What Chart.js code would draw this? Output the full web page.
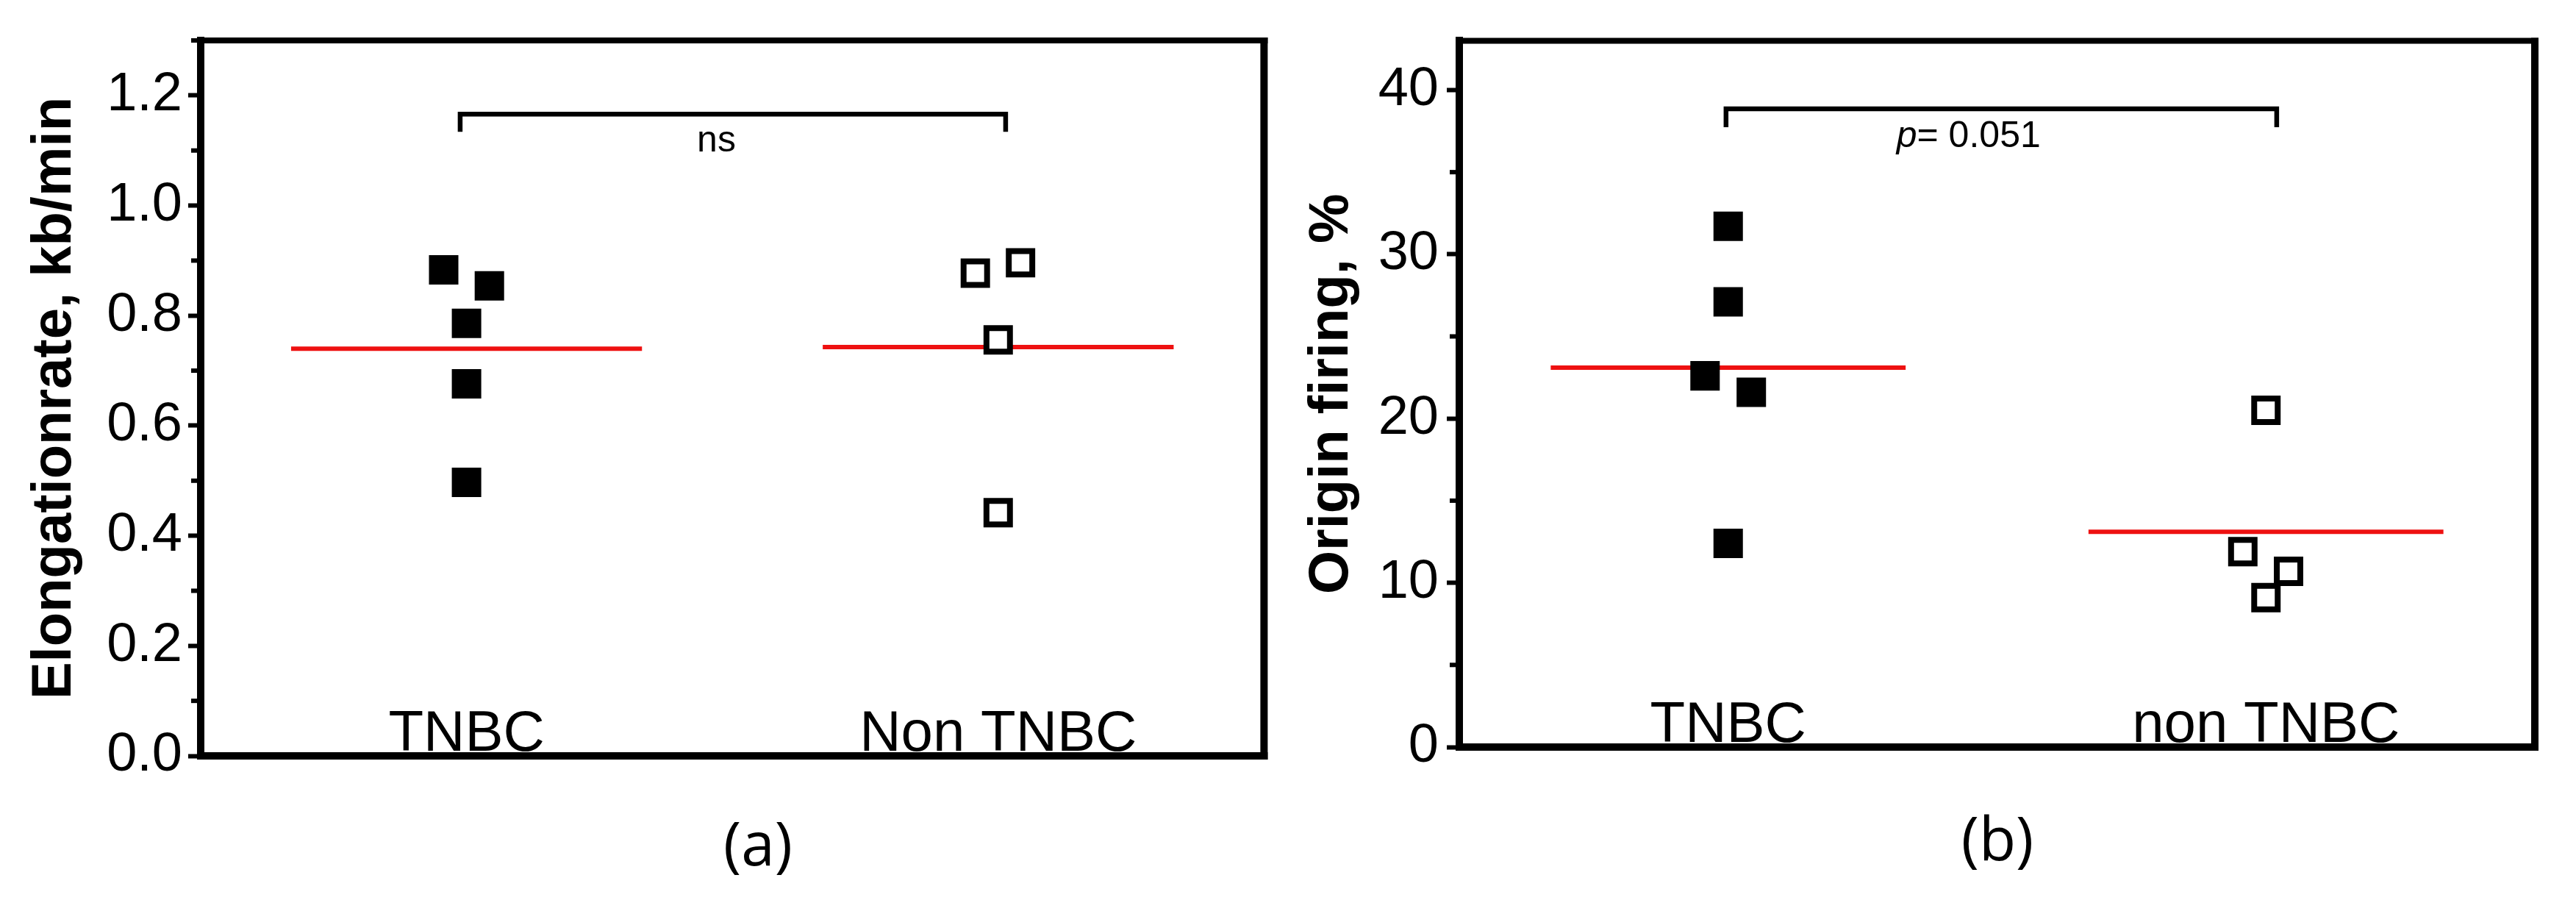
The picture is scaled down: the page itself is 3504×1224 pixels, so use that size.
<!DOCTYPE html>
<html><head><meta charset="utf-8">
<script src="https://cdn.jsdelivr.net/npm/chart.js@4.4.1/dist/chart.umd.min.js"></script>
<style>
html,body{margin:0;padding:0;background:#fff;width:3504px;height:1224px;overflow:hidden}
#ca{position:absolute;left:0;top:0}
#cb{position:absolute;left:1750px;top:0}
.pl{position:absolute;font-family:"Open Sans",sans-serif;font-size:82px;line-height:82px;transform:translate(-50%,-50%);color:#000;white-space:nowrap}
</style></head><body>
<canvas id="ca" width="1750" height="1224"></canvas>
<canvas id="cb" width="1754" height="1224"></canvas>
<div class="pl" style="left:1031px;top:1145px">(a)</div>
<div class="pl" style="left:2717px;top:1138px">(b)</div>
<script>
// ---------- Panel (a): elongation rate ----------
const aCategories = ['TNBC', 'Non TNBC'];
const aTitle = 'Elongationrate, kb/min';
const aTnbc = [0.883, 0.854, 0.786, 0.676, 0.497];
const aTnbcJitter = [-0.043, 0.043, 0, 0, 0];
const aNon = [0.877, 0.896, 0.756, 0.442];
const aNonJitter = [-0.043, 0.042, 0, 0];
const aMeans = [0.740, 0.743];
const aTicks = [0, 0.2, 0.4, 0.6, 0.8, 1.0, 1.2];
const aMinorTicks = [0.1, 0.3, 0.5, 0.7, 0.9, 1.1, 1.3];
const aMax = 1.3;
const aBracketX = [0.988, 2.014];
const aBracketY = [1.134, 1.166];
const aNote = 'ns';
const aNoteAt = [1.47, 1.117];

// ---------- Panel (b): origin firing ----------
const bCategories = ['TNBC', 'non TNBC'];
const bTitle = 'Origin firing, %';
const bTnbc = [31.7, 27.1, 22.6, 21.6, 12.4];
const bTnbcJitter = [0, 0, -0.043, 0.043, 0];
const bNon = [20.5, 11.9, 10.7, 9.1];
const bNonJitter = [0, -0.043, 0.042, 0];
const bMeans = [23.1, 13.1];
const bTicks = [0, 10, 20, 30, 40];
const bMinorTicks = [5, 15, 25, 35];
const bMax = 43;
const bBracketX = [0.996, 2.02];
const bBracketY = [37.74, 38.85];
const bNoteP = 'p';
const bNoteRest = '= 0.051';
const bNoteAt = [1.447, 37.13];

const FONT = '"Liberation Sans", Arial, sans-serif';
const groupPos = [1, 2];
const halfWidth = 0.33;

function pts(vals, jit, g) { return vals.map((v, i) => ({x: groupPos[g] + jit[i], y: v})); }
function meanLine(m, g) { return [{x: groupPos[g] - halfWidth, y: m}, {x: groupPos[g] + halfWidth, y: m}]; }
function bracket(bx, by) {
  return [{x: bx[0], y: by[0]}, {x: bx[0], y: by[1]}, {x: bx[1], y: by[1]}, {x: bx[1], y: by[0]}];
}

function decor(cfg) {
  return {
    id: 'decor',
    afterDraw(chart) {
      const {ctx, chartArea: ca, scales: {x, y}} = chart;
      ctx.save();
      ctx.strokeStyle = '#000';
      ctx.lineCap = 'butt';
      ctx.lineWidth = 8;
      ctx.beginPath(); ctx.moveTo(ca.left - 5, ca.top); ctx.lineTo(ca.right + 5, ca.top); ctx.stroke();
      ctx.lineWidth = 10;
      ctx.beginPath(); ctx.moveTo(ca.right, ca.top - 4); ctx.lineTo(ca.right, ca.bottom + 5); ctx.stroke();
      ctx.beginPath(); ctx.moveTo(ca.left - 5, ca.bottom); ctx.lineTo(ca.right + 5, ca.bottom); ctx.stroke();
      ctx.lineWidth = 6;
      cfg.minor.forEach(v => {
        const py = y.getPixelForValue(v);
        ctx.beginPath(); ctx.moveTo(ca.left - 13, py); ctx.lineTo(ca.left, py); ctx.stroke();
      });
      ctx.fillStyle = '#000';
      ctx.font = '78px ' + FONT;
      ctx.textAlign = 'center';
      ctx.textBaseline = 'alphabetic';
      cfg.cats.forEach((c, i) => ctx.fillText(c, x.getPixelForValue(groupPos[i]), ca.bottom - 7));
      ctx.textBaseline = 'middle';
      const nx = x.getPixelForValue(cfg.noteAt[0]);
      const ny = y.getPixelForValue(cfg.noteAt[1]);
      if (cfg.noteItalic) {
        ctx.font = 'italic 50px ' + FONT;
        const w1 = ctx.measureText(cfg.noteItalic).width;
        ctx.font = '50px ' + FONT;
        const w2 = ctx.measureText(cfg.note).width;
        const x0 = nx - (w1 + w2) / 2;
        ctx.textAlign = 'left';
        ctx.font = 'italic 50px ' + FONT;
        ctx.fillText(cfg.noteItalic, x0, ny);
        ctx.font = '50px ' + FONT;
        ctx.fillText(cfg.note, x0 + w1, ny);
      } else {
        ctx.font = '50px ' + FONT;
        ctx.fillText(cfg.note, nx, ny);
      }
      ctx.restore();
    }
  };
}

function makeChart(id, o) {
  const datasets = [
    {data: pts(o.tnbc, o.tnbcJ, 0), pointStyle: 'rect', pointRadius: 28.3, backgroundColor: '#000', borderWidth: 0},
    {data: pts(o.non, o.nonJ, 1), pointStyle: 'rect', pointRadius: 22.6, backgroundColor: '#fff', borderColor: '#000', borderWidth: 8},
    {data: meanLine(o.means[0], 0), showLine: true, borderColor: '#ee1111', borderWidth: 6, pointRadius: 0},
    {data: meanLine(o.means[1], 1), showLine: true, borderColor: '#ee1111', borderWidth: 6, pointRadius: 0},
    {data: bracket(o.bx, o.by), showLine: true, borderColor: '#000', borderWidth: 6.5, pointRadius: 0}
  ];
  return new Chart(document.getElementById(id), {
    type: 'scatter',
    data: {datasets},
    options: {
      responsive: false, animation: false, devicePixelRatio: 1, events: [],
      layout: {padding: o.pad},
      plugins: {legend: {display: false}, tooltip: {enabled: false}},
      scales: {
        x: {type: 'linear', min: 0.5, max: 2.5, display: false},
        y: {
          type: 'linear', min: 0, max: o.max,
          afterBuildTicks: s => { s.ticks = o.ticks.map(v => ({value: v})); },
          afterFit: s => { s.width = o.yWidth; },
          ticks: {color: '#000', font: {family: FONT, size: 74}, padding: o.tickPad,
                  callback: o.fmt},
          grid: {drawOnChartArea: false, drawTicks: true, tickLength: 17, tickWidth: 6, tickColor: '#000'},
          border: {display: true, color: '#000', width: 10},
          title: {display: true, text: o.title, color: '#000', font: {family: FONT, size: 76, weight: 'bold'},
                  padding: {top: o.titlePad, bottom: 0}}
        }
      }
    },
    plugins: [decor({minor: o.minor, cats: o.cats, note: o.note, noteItalic: o.noteItalic, noteAt: o.noteAt})]
  });
}

makeChart('ca', {
  tnbc: aTnbc, tnbcJ: aTnbcJitter, non: aNon, nonJ: aNonJitter, means: aMeans,
  bx: aBracketX, by: aBracketY, max: aMax, ticks: aTicks, minor: aMinorTicks,
  fmt: v => Number(v).toFixed(1), title: aTitle, titlePad: 29, yWidth: 273, tickPad: 8,
  pad: {left: 0, right: 14, top: 55, bottom: 196},
  cats: aCategories, note: aNote, noteItalic: null, noteAt: aNoteAt
});
makeChart('cb', {
  tnbc: bTnbc, tnbcJ: bTnbcJitter, non: bNon, nonJ: bNonJitter, means: bMeans,
  bx: bBracketX, by: bBracketY, max: bMax, ticks: bTicks, minor: bMinorTicks,
  fmt: v => String(v), title: bTitle, titlePad: 16, yWidth: 235, tickPad: 11,
  pad: {left: 0, right: 56, top: 44, bottom: 208},
  cats: bCategories, note: bNoteRest, noteItalic: bNoteP, noteAt: bNoteAt
});
</script>
</body></html>
